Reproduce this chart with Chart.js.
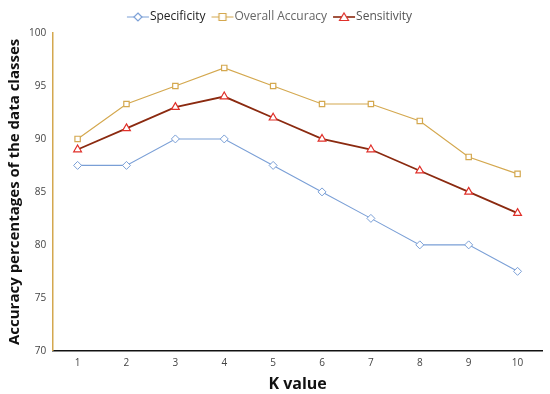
<!DOCTYPE html>
<html>
<head>
<meta charset="utf-8">
<script src="https://cdn.jsdelivr.net/npm/chart.js@4"></script>
<style>
  html, body { margin: 0; padding: 0; background: #fff; }
  #wrap { width: 550px; height: 394px; }
</style>
</head>
<body>
<div id="wrap"><canvas id="kChart" width="550" height="394"></canvas></div>
<script>
'use strict';

// ============================================================
// DATA
// ============================================================
const kValues     = ['1', '2', '3', '4', '5', '6', '7', '8', '9', '10'];
const specificity = [87.5, 87.5, 90, 90, 87.5, 85, 82.5, 80, 80, 77.5];
const overallAcc  = [90, 93.3, 95, 96.7, 95, 93.3, 93.3, 91.7, 88.3, 86.7];
const sensitivity = [89, 91, 93, 94, 92, 90, 89, 87, 85, 83];
const yTicks      = [70, 75, 80, 85, 90, 95, 100];

const FONT = "'Open Sans', 'Liberation Sans', sans-serif";

// legend swatch: short line with marker in the middle
function swatch(lineColor, markColor, shape, lw) {
  const c = document.createElement('canvas');
  c.width = 24; c.height = 12;
  const g = c.getContext('2d');
  g.strokeStyle = lineColor; g.lineWidth = lw;
  g.beginPath(); g.moveTo(1, 6); g.lineTo(23, 6); g.stroke();
  g.fillStyle = '#fff'; g.strokeStyle = markColor; g.lineWidth = 1.2;
  g.beginPath();
  if (shape === 'diamond') { g.moveTo(12, 2); g.lineTo(16, 6); g.lineTo(12, 10); g.lineTo(8, 6); g.closePath(); }
  if (shape === 'square')  { g.rect(8.5, 2.5, 7, 7); }
  if (shape === 'tri')     { g.moveTo(12, 2); g.lineTo(16.5, 9.5); g.lineTo(7.5, 9.5); g.closePath(); }
  g.fill(); g.stroke();
  return c;
}

const blue = '#7a9fd6', gold = '#d4a84f', dred = '#8b2a10', red = '#e0302a';
const icons = [
  swatch(blue, blue, 'diamond', 1),
  swatch(gold, gold, 'square', 1),
  swatch(dred, red, 'tri', 1.6)
];
const legendColors = ['#222', '#666', '#555'];

new Chart(document.getElementById('kChart'), {
  type: 'line',
  data: {
    labels: kValues,
    datasets: [
      {
        label: 'Specificity', data: specificity,
        borderColor: blue, borderWidth: 1.1,
        pointStyle: 'rectRot', pointRadius: 4, pointBorderWidth: 1,
        pointBackgroundColor: '#fff', pointBorderColor: blue, tension: 0
      },
      {
        label: 'Overall Accuracy', data: overallAcc,
        borderColor: gold, borderWidth: 1.2,
        pointStyle: 'rect', pointRadius: 3.8, pointBorderWidth: 1.2,
        pointBackgroundColor: '#fff', pointBorderColor: gold, tension: 0
      },
      {
        label: 'Sensitivity', data: sensitivity,
        borderColor: dred, borderWidth: 1.8,
        pointStyle: 'triangle', pointRadius: 4.5, pointBorderWidth: 1.2,
        pointBackgroundColor: '#fff', pointBorderColor: red, tension: 0
      }
    ]
  },
  options: {
    responsive: false, animation: false,
    layout: { padding: { left: 2, right: 8, top: 0, bottom: 0 } },
    plugins: {
      tooltip: { enabled: false },
      legend: {
        position: 'top',
        labels: {
          usePointStyle: true, boxHeight: 12, padding: 11,
          font: { family: FONT, size: 12 },
          generateLabels: chart => chart.data.datasets.map((ds, i) => ({
            text: ds.label, pointStyle: icons[i], fontColor: legendColors[i],
            strokeStyle: 'transparent', fillStyle: 'transparent', datasetIndex: i, hidden: false
          }))
        }
      }
    },
    scales: {
      x: {
        offset: true,
        grid: { display: false, drawTicks: false },
        border: { color: '#111', width: 1.5 },
        ticks: { color: '#444', font: { family: FONT, size: 10 }, padding: 6 },
        title: { display: true, text: 'K value', color: '#111', font: { family: FONT, size: 16, weight: 'bold' }, padding: { top: 0, bottom: 0 } }
      },
      y: {
        min: 70, max: 100,
        afterBuildTicks: axis => { axis.ticks = yTicks.map(v => ({ value: v })); },
        grid: { display: false, drawOnChartArea: false, drawTicks: true, tickLength: 4, color: gold },
        border: { color: gold, width: 1.5 },
        ticks: { color: '#444', font: { family: FONT, size: 10 }, padding: 3 },
        title: { display: true, text: 'Accuracy percentages of the data classes', color: '#111', font: { family: FONT, size: 15, weight: 'bold' }, padding: { bottom: 2 } }
      }
    }
  }
});
</script>
</body>
</html>
